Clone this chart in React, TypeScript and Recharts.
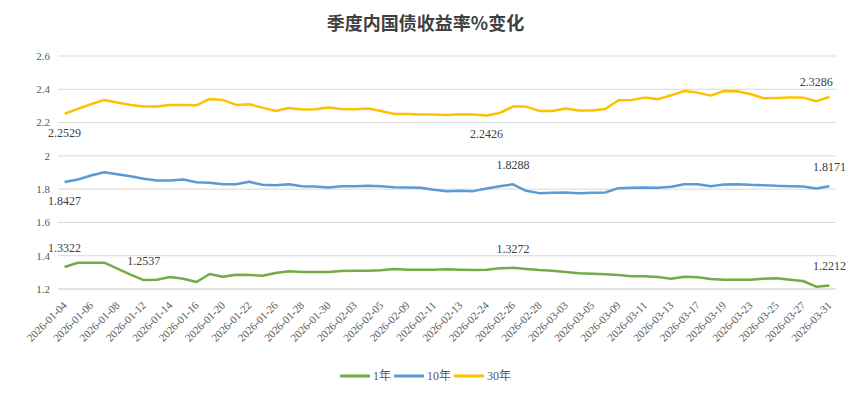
import { CartesianGrid, Legend, LabelList, Line, LineChart, XAxis, YAxis } from 'recharts'

document.body.style.margin = '0'

const dates = [
  '2026-01-04', '2026-01-05', '2026-01-06', '2026-01-07', '2026-01-08', '2026-01-09',
  '2026-01-12', '2026-01-13', '2026-01-14', '2026-01-15', '2026-01-16', '2026-01-19',
  '2026-01-20', '2026-01-21', '2026-01-22', '2026-01-23', '2026-01-26', '2026-01-27',
  '2026-01-28', '2026-01-29', '2026-01-30', '2026-02-02', '2026-02-03', '2026-02-04',
  '2026-02-05', '2026-02-06', '2026-02-09', '2026-02-10', '2026-02-11', '2026-02-12',
  '2026-02-13', '2026-02-14', '2026-02-24', '2026-02-25', '2026-02-26', '2026-02-27',
  '2026-02-28', '2026-03-02', '2026-03-03', '2026-03-04', '2026-03-05', '2026-03-06',
  '2026-03-09', '2026-03-10', '2026-03-11', '2026-03-12', '2026-03-13', '2026-03-16',
  '2026-03-17', '2026-03-18', '2026-03-19', '2026-03-20', '2026-03-23', '2026-03-24',
  '2026-03-25', '2026-03-26', '2026-03-27', '2026-03-30', '2026-03-31',
]

const yield1y = [
  1.3322, 1.358, 1.358, 1.358, 1.322, 1.286, 1.2537, 1.256, 1.272, 1.262,
  1.242, 1.29, 1.274, 1.286, 1.284, 1.28, 1.296, 1.306, 1.302, 1.302,
  1.302, 1.308, 1.31, 1.31, 1.312, 1.32, 1.316, 1.316, 1.316, 1.318,
  1.316, 1.314, 1.316, 1.324, 1.3272, 1.32, 1.314, 1.31, 1.302, 1.294,
  1.292, 1.288, 1.284, 1.276, 1.276, 1.272, 1.262, 1.274, 1.27, 1.26,
  1.256, 1.256, 1.256, 1.262, 1.264, 1.256, 1.248, 1.214, 1.2212,
]

const yield10y = [
  1.8427, 1.858, 1.882, 1.902, 1.89, 1.878, 1.862, 1.852, 1.852, 1.858,
  1.842, 1.838, 1.83, 1.83, 1.844, 1.826, 1.824, 1.83, 1.818, 1.816,
  1.81, 1.818, 1.818, 1.82, 1.818, 1.812, 1.81, 1.808, 1.796, 1.788,
  1.79, 1.788, 1.804, 1.818, 1.8288, 1.79, 1.776, 1.778, 1.78, 1.776,
  1.778, 1.78, 1.806, 1.808, 1.81, 1.808, 1.814, 1.83, 1.83, 1.818,
  1.828, 1.83, 1.826, 1.824, 1.82, 1.818, 1.816, 1.804, 1.8171,
]

const yield30y = [
  2.2529, 2.282, 2.31, 2.336, 2.32, 2.306, 2.296, 2.296, 2.306, 2.306,
  2.304, 2.342, 2.336, 2.306, 2.31, 2.29, 2.27, 2.288, 2.278, 2.28,
  2.29, 2.282, 2.28, 2.284, 2.27, 2.252, 2.252, 2.248, 2.248, 2.246,
  2.25, 2.248, 2.2426, 2.258, 2.296, 2.296, 2.27, 2.27, 2.284, 2.272,
  2.272, 2.282, 2.334, 2.336, 2.35, 2.34, 2.364, 2.39, 2.38, 2.362,
  2.39, 2.388, 2.372, 2.346, 2.348, 2.35, 2.35, 2.3286, 2.354,
]

const yTicks = [1.2, 1.4, 1.6, 1.8, 2, 2.2, 2.4, 2.6]

// which points carry a value label, and on which side
const labels1y: Record<number, 'top' | 'bottom'> = { 0: 'top', 6: 'top', 34: 'top', 58: 'top' }
const labels10y: Record<number, 'top' | 'bottom'> = { 0: 'bottom', 34: 'top', 58: 'top' }
const labels30y: Record<number, 'top' | 'bottom'> = { 0: 'bottom', 32: 'bottom', 57: 'top' }

const series = [
  { key: '1年', values: yield1y, color: '#70AD47', labels: labels1y },
  { key: '10年', values: yield10y, color: '#5B9BD5', labels: labels10y },
  { key: '30年', values: yield30y, color: '#FFC000', labels: labels30y },
]

const rows = dates.map((date, i) => {
  const row: Record<string, string | number> = { date }
  for (const s of series) row[s.key] = s.values[i]
  return row
})

const SERIF = '"Liberation Serif", "Times New Roman", "Noto Sans CJK SC", serif'
const TICK_COLOR = '#595959'
const GRID_COLOR = '#d9d9d9'

function DateTick({ x, y, payload }: any) {
  const px = x + 3
  const py = y + 17
  return (
    <text
      x={px}
      y={py}
      transform={`rotate(-45 ${px} ${py})`}
      textAnchor="end"
      fontSize={11}
      fontFamily={SERIF}
      fill={TICK_COLOR}
    >
      {payload.value}
    </text>
  )
}

function makeLabel(labels: Record<number, 'top' | 'bottom'>) {
  return (props: any) => {
    const { x, y, value, index } = props
    const side = labels[index]
    if (!side) return null
    return (
      <text
        x={x}
        y={side === 'top' ? y - 19 : y + 19}
        textAnchor="middle"
        dominantBaseline="central"
        fontSize={12}
        fontFamily={SERIF}
        fill="#404040"
      >
        {value}
      </text>
    )
  }
}

function LegendContent() {
  return (
    <div style={{ display: 'flex', justifyContent: 'center', alignItems: 'center', gap: 3 }}>
      {series.map((s) => (
        <div key={s.key} style={{ display: 'flex', alignItems: 'center' }}>
          <svg width={30} height={6}>
            <line x1={0} y1={3} x2={30} y2={3} stroke={s.color} strokeWidth={3} />
          </svg>
          <span
            style={{
              marginLeft: 3,
              fontSize: 12,
              fontFamily: SERIF,
              color: TICK_COLOR,
              lineHeight: '16px',
            }}
          >
            {s.key}
          </span>
        </div>
      ))}
    </div>
  )
}

export default function App() {
  return (
    <div style={{ position: 'relative', width: 851, height: 397, background: '#fff' }}>
      <div
        style={{
          position: 'absolute',
          top: 9,
          left: 0,
          width: 851,
          textAlign: 'center',
          fontSize: 18,
          lineHeight: '26px',
          fontWeight: 700,
          color: '#404040',
          fontFamily: '"Noto Sans CJK SC", sans-serif',
        }}
      >
        季度内国债收益率%变化
      </div>
      <LineChart
        width={851}
        height={397}
        data={rows}
        margin={{ top: 56, right: 15, bottom: 0, left: 8 }}
      >
        <CartesianGrid vertical={false} stroke={GRID_COLOR} />
        <XAxis
          dataKey="date"
          interval={1}
          padding={{ left: 6.6, right: 6.6 }}
          height={108}
          tickLine={false}
          tickSize={0}
          tickMargin={0}
          axisLine={{ stroke: GRID_COLOR }}
          tick={<DateTick />}
        />
        <YAxis
          domain={[1.2, 2.6]}
          ticks={yTicks}
          width={50}
          axisLine={false}
          tickLine={false}
          tickSize={0}
          tickMargin={8}
          tick={{ fontSize: 11, fill: TICK_COLOR, fontFamily: SERIF }}
        />
        <Legend
          layout="horizontal"
          verticalAlign="middle"
          align="center"
          wrapperStyle={{ top: 368, left: 0, width: 851 }}
          content={<LegendContent />}
        />
        {series.map((s) => (
          <Line
            key={s.key}
            dataKey={s.key}
            type="linear"
            stroke={s.color}
            strokeWidth={2.5}
            strokeLinejoin="round"
            dot={false}
            activeDot={false}
            isAnimationActive={false}
          >
            <LabelList dataKey={s.key} content={makeLabel(s.labels)} />
          </Line>
        ))}
      </LineChart>
    </div>
  )
}
